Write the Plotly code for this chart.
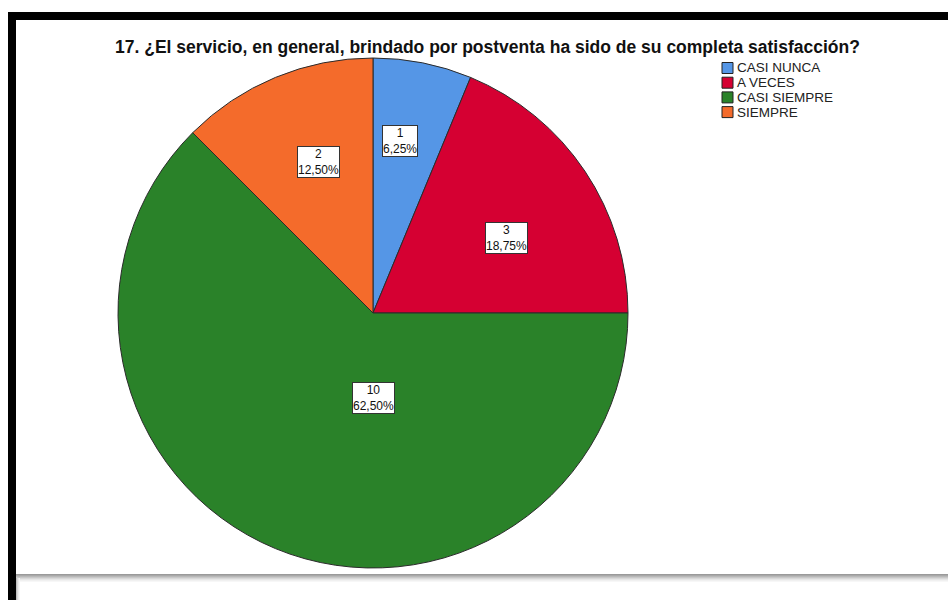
import plotly.graph_objects as go

# Survey answers for question 17
categories = ["CASI NUNCA", "A VECES", "CASI SIEMPRE", "SIEMPRE"]
counts = [1, 3, 10, 2]
colors = ["#5596e6", "#d50032", "#2a8229", "#f46b2b"]
title_text = "17. ¿El servicio, en general, brindado por postventa ha sido de su completa satisfacción?"

W, H = 948, 600
total = sum(counts)


def px_x(x):
    return x / W


def px_y(y):
    return 1 - y / H


# pie centre (373, 313) and radius 255 px
cx, cy, r = 373, 313, 255

fig = go.Figure(
    go.Pie(
        labels=categories,
        values=counts,
        marker=dict(colors=colors, line=dict(color="#2b2b2b", width=1)),
        sort=False,
        direction="clockwise",
        rotation=0,
        textinfo="none",
        hoverinfo="label+value+percent",
        showlegend=False,
        domain=dict(x=[px_x(cx - r), px_x(cx + r)], y=[px_y(cy + r), px_y(cy - r)]),
    )
)

# boxed count / percentage labels
label_pos = [(400, 125), (507, 238), (373, 414), (318, 146)]
annotations = []
for (lx, ly), n in zip(label_pos, counts):
    pct = f"{100 * n / total:.2f}".replace(".", ",") + "%"
    annotations.append(dict(
        x=px_x(lx), y=px_y(ly), xref="paper", yref="paper",
        text=f"{n}<br>{pct}", showarrow=False,
        font=dict(family="Liberation Sans, Arial", size=12, color="#111"),
        bgcolor="white", bordercolor="#333", borderwidth=1, borderpad=0,
        align="center",
    ))

# title
annotations.append(dict(
    x=px_x(487), y=px_y(47), xref="paper", yref="paper",
    text=f"<b>{title_text}</b>", showarrow=False,
    font=dict(family="Liberation Sans, Arial", size=17.5, color="#111"),
    xanchor="center", yanchor="middle",
))

shapes = []
# legend swatches and labels
leg_x, leg_y0, leg_dy, sw = 722, 68, 14.7, 11
for i, (cat, col) in enumerate(zip(categories, colors)):
    yc = leg_y0 + i * leg_dy
    shapes.append(dict(
        type="rect", xref="paper", yref="paper",
        x0=px_x(leg_x), x1=px_x(leg_x + sw),
        y0=px_y(yc + sw / 2), y1=px_y(yc - sw / 2),
        fillcolor=col, line=dict(color="#222", width=1),
    ))
    annotations.append(dict(
        x=px_x(leg_x + sw + 2), y=px_y(yc), xref="paper", yref="paper",
        text=cat, showarrow=False, xanchor="left", yanchor="middle",
        font=dict(family="Liberation Sans, Arial", size=13.5, color="#222"),
    ))

# black frame (top and left edges)
shapes.append(dict(type="rect", xref="paper", yref="paper",
                   x0=px_x(8), x1=1.01, y0=px_y(20), y1=px_y(12),
                   fillcolor="black", line=dict(width=0), layer="above"))
shapes.append(dict(type="rect", xref="paper", yref="paper",
                   x0=px_x(8), x1=px_x(16), y0=-0.01, y1=px_y(12),
                   fillcolor="black", line=dict(width=0), layer="above"))

# grey shaded bar under the chart area
greys = ["#9a9a9a", "#a8a8a8", "#b8b8b8", "#c8c8c8", "#d8d8d8", "#e6e6e6", "#f0f0f0", "#f7f7f7"]
for i, g in enumerate(greys):
    shapes.append(dict(type="rect", xref="paper", yref="paper",
                       x0=px_x(16), x1=1.01, y0=px_y(574 + i + 1), y1=px_y(574 + i),
                       fillcolor=g, line=dict(width=0), layer="above"))
# soft shadow along the left edge of the lower box
for i, g in enumerate(["#bdbdbd", "#d6d6d6", "#e8e8e8", "#f4f4f4"]):
    shapes.append(dict(type="rect", xref="paper", yref="paper",
                       x0=px_x(16 + i), x1=px_x(17 + i), y0=-0.01, y1=px_y(578),
                       fillcolor=g, line=dict(width=0), layer="above"))

fig.update_layout(
    width=W, height=H,
    margin=dict(l=0, r=0, t=0, b=0),
    paper_bgcolor="white", plot_bgcolor="white",
    annotations=annotations, shapes=shapes,
    showlegend=False,
)

fig.write_html("out.html")
